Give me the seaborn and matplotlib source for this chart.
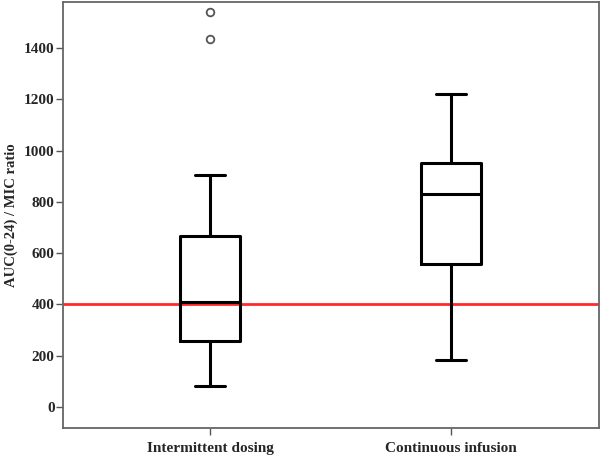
import matplotlib
matplotlib.use("Agg")
import matplotlib.pyplot as plt
import seaborn as sns

groups = ["Intermittent dosing", "Continuous infusion"]
whis_low = [82, 182]
q1 = [257, 558]
median = [408, 830]
q3 = [668, 950]
whis_high = [905, 1220]
outliers = [[1435, 1540], []]
target = 400

sns.set_theme(style="white")
plt.rcParams["font.family"] = ["Liberation Serif", "DejaVu Serif"]
plt.rcParams["font.weight"] = "bold"

stats = []
for i, g in enumerate(groups):
    stats.append({"label": g, "whislo": whis_low[i], "q1": q1[i], "med": median[i],
                  "q3": q3[i], "whishi": whis_high[i], "fliers": outliers[i]})

fig = plt.figure(figsize=(6, 4.55), dpi=100)
ax = fig.add_axes([0.105, 0.0593, 0.893, 0.9374])

black = dict(color="black", linewidth=2.2)
ax.bxp(stats, positions=[0, 1], widths=0.25, patch_artist=False,
       boxprops=black, whiskerprops=black, capprops=black,
       medianprops=black, capwidths=0.125,
       flierprops=dict(marker="o", markerfacecolor="white", markeredgecolor="#555555",
                       markersize=5.5, markeredgewidth=1.3))
ax.axhline(target, color="#ff2a2a", linewidth=2, zorder=0.5)

ax.set_xlim(-0.61, 1.614)
ax.set_ylim(-82, 1581)
ax.set_yticks(range(0, 1401, 200))
ax.set_xticks([0, 1])
ax.set_xticklabels(groups, fontsize=11, fontweight="bold")
ax.tick_params(axis="y", labelsize=11, length=5, width=1, color="#555555", direction="out", left=True, pad=1)
ax.tick_params(axis="x", length=5, width=1, color="#555555", direction="out", bottom=True, pad=5)
for lab in ax.get_yticklabels():
    lab.set_fontweight("bold")
ax.set_ylabel("AUC(0-24) / MIC ratio", fontsize=10.5, fontweight="bold", labelpad=4)
for s in ax.spines.values():
    s.set_color("#666666")
    s.set_linewidth(1.3)

fig.savefig("out.png", dpi=100)
